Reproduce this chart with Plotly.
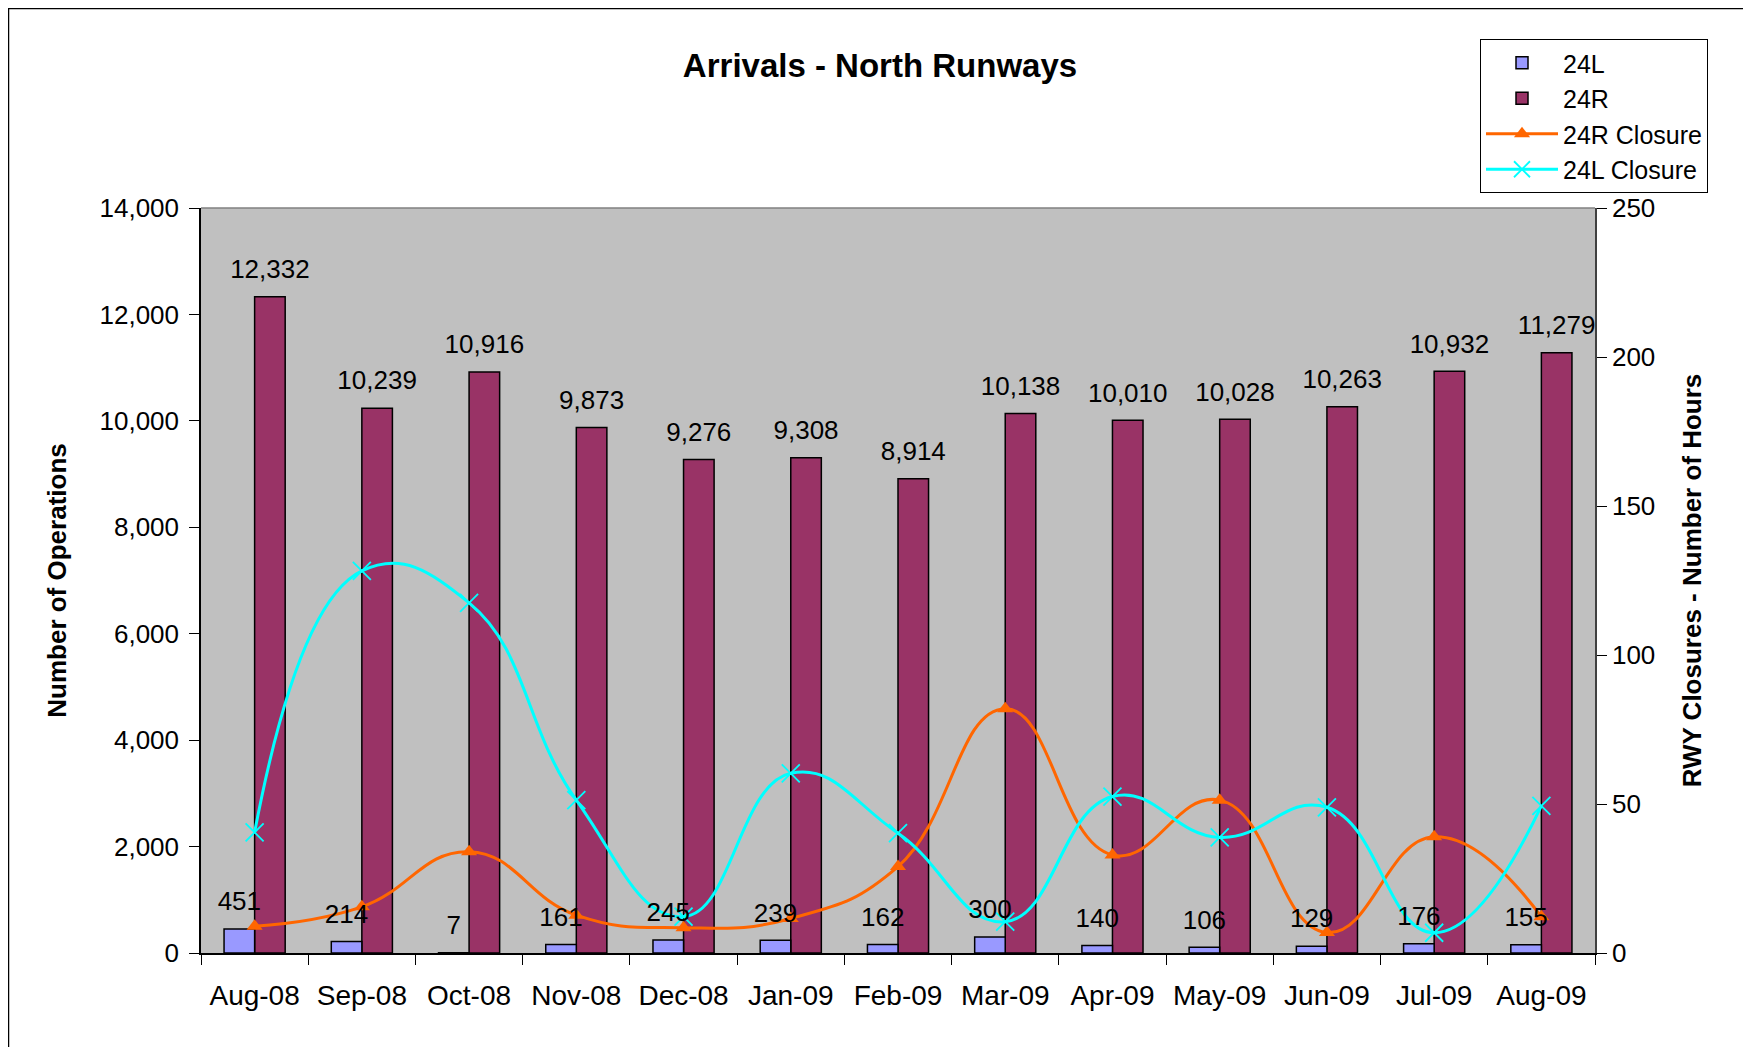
import plotly.graph_objects as go

months = ["Aug-08", "Sep-08", "Oct-08", "Nov-08", "Dec-08", "Jan-09", "Feb-09",
          "Mar-09", "Apr-09", "May-09", "Jun-09", "Jul-09", "Aug-09"]
ops_24L = [451, 214, 7, 161, 245, 239, 162, 300, 140, 106, 129, 176, 155]
ops_24R = [12332, 10239, 10916, 9873, 9276, 9308, 8914, 10138, 10010, 10028, 10263, 10932, 11279]
closure_24R = [9, 15.5, 34, 12.7, 8.5, 11.6, 29, 82, 32.9, 51.3, 6.9, 39, 12.2]
closure_24L = [40.5, 128.2, 117.5, 51.3, 12.2, 60.3, 40.2, 10.5, 52.5, 38.8, 48.9, 6.8, 49.4]

FONT = "Liberation Sans, Arial, sans-serif"
OFF = 8                      # page body margin of the html page
PW, PH = 1751, 1047          # page size
W, H = PW - OFF, PH - OFF    # figure size
L, R, T, B = 201, 1595, 208, 953   # plot area in page pixels
BW = 0.285                   # bar width (category units)

pw, ph = R - L, B - T
def px(x):
    return (x - L) / pw
def py(y):
    return (B - y) / ph

idx = list(range(len(months)))
xrange_ = [-0.5, len(months) - 0.5]

fig = go.Figure()
# 24R first so that 24L labels can sit above it
fig.add_trace(go.Bar(
    x=months, y=ops_24R, name="24R", width=BW, offset=0, legendrank=2,
    marker=dict(color="#993366", line=dict(color="black", width=1.5))))
fig.add_trace(go.Bar(
    x=months, y=ops_24L, name="24L", width=BW, offset=-BW, legendrank=1,
    marker=dict(color="#9999FF", line=dict(color="black", width=1.5))))
fig.add_trace(go.Scatter(
    x=months, y=closure_24R, name="24R Closure", yaxis="y2", mode="lines+markers",
    legendrank=3,
    line=dict(color="#FF6600", width=3, shape="spline", smoothing=1.3),
    marker=dict(symbol="triangle-up", size=14, color="#FF6600")))
fig.add_trace(go.Scatter(
    x=months, y=closure_24L, name="24L Closure", yaxis="y2", mode="lines+markers",
    legendrank=4,
    line=dict(color="#00FFFF", width=3, shape="spline", smoothing=1.3),
    marker=dict(symbol="x-thin", size=18, line=dict(color="#00FFFF", width=1.8))))

# value labels (drawn on a hidden linear x axis aligned with the categories)
for vals, shift in ((ops_24R, BW / 2), (ops_24L, -BW / 2)):
    fig.add_trace(go.Scatter(
        x=[i + shift for i in idx], y=vals, xaxis="x2", yaxis="y",
        mode="markers+text", text=[f"{v:,}" for v in vals], textposition="top center",
        textfont=dict(family=FONT, size=26, color="black"),
        marker=dict(size=18, color="rgba(0,0,0,0)"),
        showlegend=False, hoverinfo="skip", cliponaxis=False))

fig.update_layout(
    width=W, height=H,
    margin=dict(l=L - OFF, r=PW - R, t=T - OFF, b=PH - B, pad=0, autoexpand=False),
    paper_bgcolor="white", plot_bgcolor="#C0C0C0",
    font=dict(family=FONT, size=26, color="black"),
    barmode="overlay",
    title=dict(text="<b>Arrivals - North Runways</b>", x=(880 - OFF) / W, xanchor="center",
               y=1 - (65 - OFF) / H, yanchor="middle", font=dict(size=33, family=FONT)),
    showlegend=True,
    legend=dict(x=px(1480), y=py(39), xanchor="left", yanchor="top",
                bgcolor="white", bordercolor="black", borderwidth=1,
                font=dict(size=25, family=FONT), itemwidth=72, tracegroupgap=0),
    xaxis=dict(type="category", range=xrange_, tickson="boundaries", ticks="outside", ticklen=10,
               tickcolor="black", showline=True, linecolor="black", linewidth=1.5,
               showgrid=False, tickfont=dict(size=28), ticklabelstandoff=17),
    xaxis2=dict(overlaying="x", range=xrange_, visible=False),
    yaxis=dict(range=[0, 14000], dtick=2000, tickformat=",", ticks="outside", ticklen=10,
               tickcolor="black", showline=True, linecolor="black", linewidth=1.5,
               showgrid=False, zeroline=False, tickfont=dict(size=26), ticklabelstandoff=5,
               title=dict(text="<b>Number of Operations</b>", font=dict(size=26), standoff=25)),
    yaxis2=dict(range=[0, 250], dtick=50, overlaying="y", side="right", ticks="outside",
                ticklen=10, tickcolor="black", showline=True, linecolor="#404040", linewidth=1.5,
                showgrid=False, zeroline=False, tickfont=dict(size=26),
                title=dict(text="<b>RWY Closures - Number of Hours</b>", font=dict(size=26), standoff=28)),
)

# plot-area top edge and outer chart frame
fig.add_shape(type="line", xref="paper", yref="paper", x0=0, x1=1, y0=1, y1=1,
              line=dict(color="#808080", width=1.5))
fig.add_shape(type="rect", xref="paper", yref="paper",
              x0=px(OFF + 0.5), x1=px(1747), y0=py(1060), y1=py(OFF + 0.5),
              line=dict(color="black", width=1.5), fillcolor="rgba(0,0,0,0)", layer="above")

fig.write_html("out.html")
